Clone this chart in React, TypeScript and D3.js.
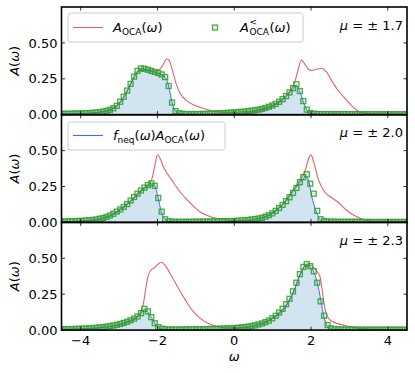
import React from 'react'
import * as d3 from 'd3'

const W = 415
const H = 373
const X0 = 61.5
const X1 = 407
const TOP = 7
const PANEL_H = 107.7
const FONT = 'DejaVu Sans, sans-serif'

const omegaTicks = [-4, -2, 0, 2, 4]
const aTicks = [0, 0.25, 0.5]
const muValues = ['1.7', '2.0', '2.3']

// omega grid of the lesser-function markers (step 0.09)
const omegaGrid = d3.range(101).map(i => -4.5 + 0.09 * i)

const lesser17 = [
  0.006, 0.006, 0.007, 0.007, 0.008, 0.008, 0.009, 0.010, 0.011, 0.013,
  0.015, 0.018, 0.022, 0.027, 0.034, 0.045, 0.062, 0.090, 0.125, 0.168,
  0.215, 0.265, 0.305, 0.322, 0.320, 0.313, 0.305, 0.298, 0.290, 0.280,
  0.262, 0.200, 0.085, 0.025, 0.010, 0.006, 0.005, 0.004, 0.004, 0.004,
  0.005, 0.005, 0.006, 0.007, 0.008, 0.009, 0.010, 0.011, 0.013, 0.014,
  0.016, 0.018, 0.020, 0.022, 0.025, 0.028, 0.031, 0.035, 0.040, 0.047,
  0.055, 0.064, 0.075, 0.090, 0.108, 0.130, 0.155, 0.185, 0.212, 0.165,
  0.095, 0.035, 0.012, 0.006, 0.005, 0.004, 0.004, 0.004, 0.004, 0.004,
  0.004, 0.004, 0.004, 0.004, 0.004, 0.004, 0.003, 0.003, 0.003, 0.003,
  0.003, 0.003, 0.003, 0.003, 0.003, 0.003, 0.003, 0.003, 0.003, 0.003,
  0.003,
]

const lesser20 = [
  0.006, 0.006, 0.007, 0.008, 0.009, 0.010, 0.011, 0.013, 0.015, 0.017,
  0.020, 0.025, 0.030, 0.038, 0.048, 0.060, 0.075, 0.090, 0.108, 0.128,
  0.152, 0.177, 0.200, 0.222, 0.242, 0.260, 0.272, 0.255, 0.170, 0.075,
  0.022, 0.008, 0.005, 0.004, 0.004, 0.004, 0.004, 0.004, 0.004, 0.005,
  0.005, 0.005, 0.006, 0.006, 0.007, 0.007, 0.008, 0.008, 0.009, 0.009,
  0.010, 0.011, 0.013, 0.015, 0.017, 0.020, 0.023, 0.027, 0.032, 0.040,
  0.050, 0.063, 0.080, 0.100, 0.122, 0.148, 0.175, 0.205, 0.240, 0.280,
  0.315, 0.335, 0.270, 0.200, 0.080, 0.022, 0.010, 0.006, 0.005, 0.005,
  0.004, 0.004, 0.004, 0.004, 0.004, 0.004, 0.004, 0.003, 0.003, 0.003,
  0.003, 0.003, 0.003, 0.003, 0.003, 0.003, 0.003, 0.003, 0.003, 0.003,
  0.003,
]

const lesser23 = [
  0.006, 0.006, 0.007, 0.007, 0.008, 0.009, 0.010, 0.011, 0.012, 0.014,
  0.016, 0.018, 0.021, 0.024, 0.028, 0.032, 0.037, 0.043, 0.050, 0.058,
  0.068, 0.080, 0.095, 0.118, 0.148, 0.130, 0.090, 0.048, 0.020, 0.010,
  0.006, 0.005, 0.004, 0.004, 0.004, 0.004, 0.004, 0.005, 0.005, 0.005,
  0.006, 0.006, 0.007, 0.008, 0.008, 0.009, 0.010, 0.011, 0.012, 0.013,
  0.014, 0.016, 0.018, 0.021, 0.024, 0.028, 0.033, 0.039, 0.046, 0.055,
  0.066, 0.082, 0.100, 0.122, 0.148, 0.180, 0.218, 0.270, 0.330, 0.390,
  0.440, 0.460, 0.445, 0.410, 0.330, 0.200, 0.100, 0.035, 0.012, 0.006,
  0.005, 0.004, 0.004, 0.004, 0.004, 0.004, 0.003, 0.003, 0.003, 0.003,
  0.003, 0.003, 0.003, 0.003, 0.003, 0.003, 0.003, 0.003, 0.003, 0.003,
  0.003,
]

// A_OCA(omega), [omega, A]
const aoca17 = [
  [-4.5, 0.005], [-4.0, 0.008], [-3.6, 0.015], [-3.33, 0.027], [-3.15, 0.045], [-3.0, 0.08],
  [-2.88, 0.125], [-2.7, 0.215], [-2.55, 0.295], [-2.43, 0.32], [-2.25, 0.313], [-2.07, 0.303],
  [-1.95, 0.315], [-1.85, 0.35], [-1.76, 0.388], [-1.7, 0.38], [-1.62, 0.32], [-1.52, 0.22],
  [-1.41, 0.15], [-1.25, 0.1], [-1.05, 0.068], [-0.85, 0.048], [-0.6, 0.028], [-0.35, 0.018],
  [0, 0.016], [0.3, 0.022], [0.6, 0.033], [0.9, 0.055], [1.1, 0.08], [1.3, 0.12], [1.45, 0.165],
  [1.58, 0.23], [1.67, 0.32], [1.75, 0.38], [1.82, 0.36], [1.92, 0.32], [2.02, 0.308],
  [2.15, 0.318], [2.28, 0.322], [2.4, 0.3], [2.54, 0.236], [2.7, 0.17], [2.88, 0.115],
  [3.05, 0.065], [3.23, 0.025], [3.4, 0.01], [3.7, 0.004], [4.5, 0.002],
]

const aoca20 = [
  [-4.5, 0.005], [-4.0, 0.009], [-3.5, 0.025], [-3.06, 0.075], [-2.7, 0.152], [-2.43, 0.222],
  [-2.25, 0.262], [-2.15, 0.3], [-2.08, 0.38], [-2.0, 0.47], [-1.94, 0.45], [-1.85, 0.39],
  [-1.72, 0.33], [-1.59, 0.28], [-1.42, 0.215], [-1.24, 0.16], [-1.05, 0.11], [-0.89, 0.072],
  [-0.7, 0.048], [-0.5, 0.03], [-0.25, 0.018], [0, 0.012], [0.3, 0.015], [0.6, 0.026],
  [0.97, 0.063], [1.3, 0.14], [1.58, 0.245], [1.75, 0.31], [1.86, 0.37], [1.93, 0.44],
  [2.0, 0.47], [2.07, 0.42], [2.19, 0.3], [2.36, 0.21], [2.55, 0.17], [2.71, 0.14],
  [2.9, 0.09], [3.14, 0.047], [3.49, 0.012], [3.8, 0.004], [4.5, 0.002],
]

const aoca23 = [
  [-4.5, 0.005], [-4.0, 0.008], [-3.5, 0.018], [-3.06, 0.037], [-2.7, 0.068], [-2.52, 0.095],
  [-2.43, 0.13], [-2.37, 0.18], [-2.31, 0.28], [-2.25, 0.37], [-2.18, 0.415], [-2.08, 0.435],
  [-1.98, 0.46], [-1.89, 0.472], [-1.8, 0.45], [-1.6, 0.36], [-1.41, 0.27], [-1.25, 0.2],
  [-1.07, 0.13], [-0.85, 0.075], [-0.63, 0.04], [-0.4, 0.022], [-0.1, 0.016], [0.3, 0.021],
  [0.7, 0.045], [1.0, 0.085], [1.3, 0.155], [1.55, 0.27], [1.72, 0.39], [1.85, 0.45],
  [1.95, 0.455], [2.05, 0.44], [2.15, 0.41], [2.23, 0.375], [2.28, 0.3], [2.33, 0.2],
  [2.38, 0.13], [2.45, 0.085], [2.55, 0.06], [2.7, 0.045], [2.88, 0.032], [3.1, 0.018],
  [3.5, 0.007], [4.5, 0.002],
]

// f_neq(omega) A_OCA(omega)
const fneq17 = [
  [-4.5, 0.004], [-3.8, 0.009], [-3.42, 0.02], [-3.15, 0.042], [-2.97, 0.086], [-2.79, 0.163],
  [-2.61, 0.26], [-2.5, 0.3], [-2.4, 0.315], [-2.2, 0.306], [-2.0, 0.29], [-1.85, 0.272],
  [-1.77, 0.25], [-1.7, 0.19], [-1.62, 0.085], [-1.53, 0.025], [-1.4, 0.006], [-1.0, 0.002],
  [0, 0.006], [0.5, 0.022], [0.9, 0.05], [1.2, 0.09], [1.4, 0.14], [1.53, 0.18], [1.62, 0.205],
  [1.71, 0.16], [1.8, 0.09], [1.89, 0.033], [2.0, 0.008], [2.3, 0.002], [4.5, 0],
]

const fneq20 = [
  [-4.5, 0.004], [-3.8, 0.012], [-3.5, 0.02], [-3.06, 0.07], [-2.7, 0.145], [-2.43, 0.215],
  [-2.25, 0.255], [-2.13, 0.27], [-2.06, 0.25], [-1.99, 0.18], [-1.9, 0.075], [-1.8, 0.02],
  [-1.7, 0.005], [-1.0, 0.001], [0, 0.006], [0.5, 0.018], [0.97, 0.06], [1.32, 0.14],
  [1.58, 0.235], [1.75, 0.29], [1.87, 0.32], [1.94, 0.29], [2.01, 0.19], [2.08, 0.12],
  [2.15, 0.065], [2.22, 0.025], [2.3, 0.008], [2.6, 0.001], [4.5, 0],
]

const fneq23 = [
  [-4.5, 0.004], [-3.6, 0.014], [-3.06, 0.034], [-2.7, 0.063], [-2.52, 0.09], [-2.42, 0.12],
  [-2.34, 0.145], [-2.27, 0.13], [-2.16, 0.088], [-2.06, 0.045], [-1.97, 0.018], [-1.85, 0.005],
  [-1.0, 0.001], [0, 0.01], [0.54, 0.03], [0.97, 0.076], [1.32, 0.155], [1.58, 0.29],
  [1.75, 0.41], [1.87, 0.45], [1.97, 0.44], [2.08, 0.4], [2.19, 0.3], [2.28, 0.17],
  [2.36, 0.07], [2.43, 0.025], [2.55, 0.005], [3.0, 0.001], [4.5, 0],
]

const panels = [
  { mu: muValues[0], red: aoca17, blue: fneq17, green: lesser17 },
  { mu: muValues[1], red: aoca20, blue: fneq20, green: lesser20 },
  { mu: muValues[2], red: aoca23, blue: fneq23, green: lesser23 },
]

const RED = '#d62728'
const RED_OP = 0.72
const BLUE = '#3d6fe0'
const GREEN = '#2ca02c'
const FILL = '#d2e4f0'
const SQ = 5

const x = d3.scaleLinear().domain([-4.5, 4.5]).range([X0, X1])

function OcaLabel({ x0, y0 }) {
  return (
    <text x={x0} y={y0} fontSize={13} fontFamily={FONT}>
      <tspan fontStyle="italic">A</tspan>
      <tspan fontSize={9} dy={3}>OCA</tspan>
      <tspan dy={-3}>(</tspan>
      <tspan fontStyle="italic">ω</tspan>
      <tspan>)</tspan>
    </text>
  )
}

function Square({ cx, cy }) {
  return (
    <rect x={cx - SQ / 2} y={cy - SQ / 2} width={SQ} height={SQ}
      fill="rgba(44,160,44,0.1)" stroke={GREEN} strokeOpacity={0.85} strokeWidth={1.3} />
  )
}

function Panel({ i, mu, red, blue, green }) {
  const top = TOP + i * PANEL_H
  const bottom = top + PANEL_H
  const y = d3.scaleLinear().domain([0, 0.75]).range([bottom, top])
  const line = d3.line().x(d => x(d[0])).y(d => y(d[1])).curve(d3.curveMonotoneX)
  const area = d3.area().x(d => x(d[0])).y0(y(0)).y1(d => y(d[1])).curve(d3.curveMonotoneX)
  const clip = `clip-panel-${i}`

  return (
    <g>
      <clipPath id={clip}>
        <rect x={X0} y={top} width={X1 - X0} height={PANEL_H} />
      </clipPath>
      <g clipPath={`url(#${clip})`}>
        <path d={area(blue)} fill={FILL} />
        <path d={line(red)} fill="none" stroke={RED} strokeOpacity={RED_OP} strokeWidth={1.1} />
        <path d={line(blue)} fill="none" stroke={BLUE} strokeWidth={1} />
        {green.map((v, k) => (
          <Square key={k} cx={x(omegaGrid[k])} cy={y(v)} />
        ))}
      </g>

      {/* ticks, inward on all sides */}
      {omegaTicks.map(t => (
        <g key={'x' + t} stroke="#000" strokeWidth={0.8}>
          <line x1={x(t)} x2={x(t)} y1={bottom} y2={bottom - 3.5} />
          <line x1={x(t)} x2={x(t)} y1={top} y2={top + 3.5} />
        </g>
      ))}
      {aTicks.map(t => (
        <g key={'y' + t}>
          <line x1={X0} x2={X0 + 3.5} y1={y(t)} y2={y(t)} stroke="#000" strokeWidth={0.8} />
          <line x1={X1} x2={X1 - 3.5} y1={y(t)} y2={y(t)} stroke="#000" strokeWidth={0.8} />
          <text x={X0 - 4} y={y(t)} dy="0.36em" textAnchor="end" fontSize={13} fontFamily={FONT}>
            {t.toFixed(2)}
          </text>
        </g>
      ))}

      <text transform={`translate(19,${(top + bottom) / 2}) rotate(-90)`} textAnchor="middle"
        fontSize={13} fontFamily={FONT}>
        <tspan fontStyle="italic">A</tspan>(<tspan fontStyle="italic">ω</tspan>)
      </text>

      <text x={403} y={top + 22.5} textAnchor="end" fontSize={13} fontFamily={FONT}>
        <tspan fontStyle="italic">μ</tspan> = ± {mu}
      </text>

      <rect x={X0} y={top} width={X1 - X0} height={PANEL_H} fill="none" stroke="#000" strokeWidth={1.6} />
    </g>
  )
}

export default function App() {
  const bottom = TOP + 3 * PANEL_H
  return (
    <svg width={W} height={H} style={{ position: 'absolute', left: 0, top: 0, background: '#fff' }}>
      {panels.map((p, i) => (
        <Panel key={i} i={i} {...p} />
      ))}

      {omegaTicks.map(t => (
        <text key={t} x={x(t)} y={bottom + 15} textAnchor="middle" fontSize={13} fontFamily={FONT}>
          {t < 0 ? '\u2212' + Math.abs(t) : t}
        </text>
      ))}
      <text x={(X0 + X1) / 2} y={bottom + 31} textAnchor="middle" fontSize={13} fontFamily={FONT}
        fontStyle="italic">ω</text>

      {/* legend, panel 1 */}
      <rect x={68} y={13} width={235} height={29} rx={2.5} fill="#fff" fillOpacity={0.8} stroke="#ccc" />
      <line x1={73} x2={103} y1={27.5} y2={27.5} stroke={RED} strokeOpacity={RED_OP} strokeWidth={1.1} />
      <OcaLabel x0={113} y0={32} />
      <Square cx={215} cy={27.5} />
      <g fontFamily={FONT}>
        <text x={240} y={32} fontSize={13} fontStyle="italic">A</text>
        <text x={249.5} y={25} fontSize={9}>&lt;</text>
        <text x={249.5} y={35} fontSize={9}>OCA</text>
        <text x={269.5} y={32} fontSize={13}>(<tspan fontStyle="italic">ω</tspan>)</text>
      </g>

      {/* legend, panel 2 */}
      <rect x={68} y={122} width={157} height={28} rx={2.5} fill="#fff" fillOpacity={0.8} stroke="#ccc" />
      <line x1={73} x2={103} y1={135.5} y2={135.5} stroke={BLUE} strokeWidth={1.1} />
      <text x={113} y={140} fontSize={13} fontFamily={FONT}>
        <tspan fontStyle="italic">f</tspan>
        <tspan fontSize={9} dy={3}>neq</tspan>
        <tspan dy={-3}>(</tspan>
        <tspan fontStyle="italic">ω</tspan>
        <tspan>)</tspan>
        <tspan fontStyle="italic">A</tspan>
        <tspan fontSize={9} dy={3}>OCA</tspan>
        <tspan dy={-3}>(</tspan>
        <tspan fontStyle="italic">ω</tspan>
        <tspan>)</tspan>
      </text>
    </svg>
  )
}
